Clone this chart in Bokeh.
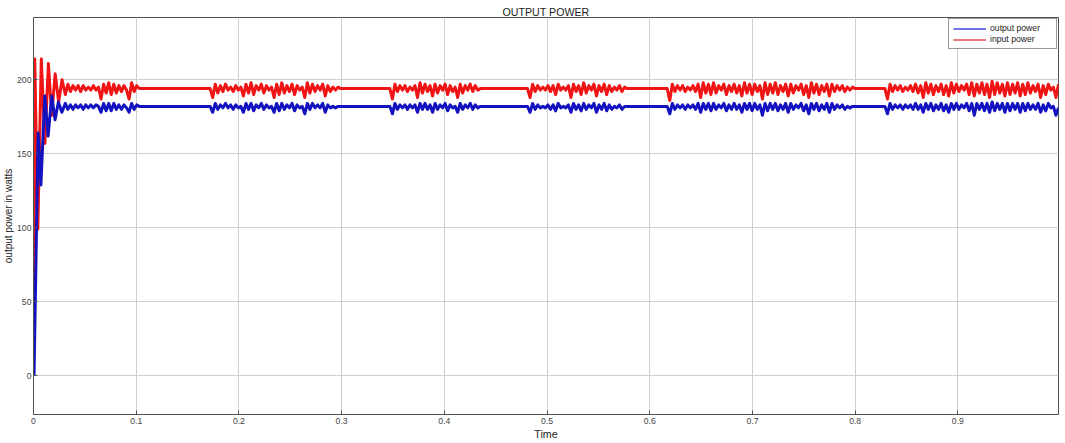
import numpy as np
from bokeh.plotting import figure
from bokeh.models import Range1d, FixedTicker, Legend, LegendItem
from bokeh.embed import file_html
from bokeh.resources import INLINE

# ---------------- data ----------------
x_ticks = [0, 0.1, 0.2, 0.3, 0.4, 0.5, 0.6, 0.7, 0.8, 0.9]
x_tick_labels = ["0", "0.1", "0.2", "0.3", "0.4", "0.5", "0.6", "0.7", "0.8", "0.9"]
y_ticks = [0, 50, 100, 150, 200]

# start-up transient
red_tr_t = [0.0, 0.0012, 0.0042, 0.0076, 0.0111, 0.0145, 0.0177, 0.0211, 0.0245, 0.0278]
red_tr_v = [0, 214, 99, 214, 157, 211, 176, 204, 185, 200]
blue_tr_t = [0.0005, 0.0045, 0.0072, 0.0110, 0.0142, 0.0178, 0.0210, 0.0242, 0.0276]
blue_tr_v = [0, 164, 129, 189, 162, 189, 173, 185, 178]

# oscillation bursts: (start time, end time)
burst_spans = [(0.031, 0.103), (0.172, 0.299), (0.347, 0.435),
               (0.481, 0.578), (0.617, 0.800), (0.829, 0.998)]

red_b1 = [190, 197, 192, 196, 193, 196, 192, 196, 193, 195, 193, 196, 193, 195, 187,
          197, 191, 198, 190, 197, 191, 196, 192, 196, 193, 187, 198, 192, 196, 194]
blue_b1 = [184, 180, 183, 180, 183, 181, 183, 180, 183, 181, 183, 181, 183, 182, 178,
           184, 179, 184, 179, 184, 180, 183, 180, 183, 181, 178, 184, 180, 183, 182]

red_b2 = [194, 188, 197, 191, 196, 192, 197, 193, 195, 192, 196, 193, 195, 189, 197, 191,
          198, 190, 196, 193, 197, 191, 196, 193, 195, 188, 197, 190, 198, 191, 196, 192,
          197, 190, 196, 193, 195, 188, 198, 191, 197, 192, 196, 193, 197, 189, 196, 192,
          195, 193, 195, 194]
blue_b2 = [182, 178, 184, 180, 183, 181, 184, 181, 183, 180, 183, 181, 182, 178, 184, 180,
           184, 179, 183, 181, 184, 180, 183, 181, 182, 178, 184, 179, 184, 180, 183, 181,
           184, 179, 183, 181, 182, 177, 184, 180, 184, 181, 183, 181, 184, 178, 183, 181,
           182, 181, 182, 182]

red_b3 = [194, 187, 197, 192, 196, 193, 196, 192, 195, 193, 196, 188, 198, 191, 197, 192,
          196, 189, 197, 191, 196, 193, 197, 190, 196, 192, 195, 188, 197, 191, 196, 193,
          197, 192, 196, 193, 194]
blue_b3 = [182, 177, 184, 180, 183, 181, 183, 180, 183, 181, 183, 178, 184, 180, 184, 180,
           183, 178, 184, 180, 183, 181, 184, 179, 183, 181, 182, 178, 184, 180, 183, 181,
           184, 180, 183, 181, 182]

red_b4 = [194, 188, 197, 192, 196, 193, 195, 193, 196, 192, 196, 190, 197, 193, 195, 193,
          196, 188, 197, 192, 196, 190, 198, 191, 196, 193, 197, 189, 196, 192, 197, 190,
          196, 192, 195, 193, 196, 192, 195, 194]
blue_b4 = [182, 178, 184, 180, 183, 181, 182, 181, 183, 180, 183, 179, 184, 181, 182, 181,
           183, 178, 184, 180, 183, 179, 184, 180, 183, 181, 184, 178, 183, 180, 184, 179,
           183, 180, 182, 181, 183, 180, 182, 182]

red_b5 = [194, 186, 197, 192, 196, 193, 196, 192, 195, 193, 196, 192, 197, 188, 198, 191,
          197, 190, 198, 191, 196, 193, 197, 190, 196, 192, 197, 191, 196, 189, 198, 191,
          197, 190, 197, 192, 196, 187, 198, 190, 197, 191, 198, 190, 196, 192, 197, 189,
          197, 191, 196, 193, 197, 190, 196, 188, 198, 191, 197, 190, 196, 192, 197, 189,
          197, 192, 196, 193, 196, 192, 195, 193, 195, 194]
blue_b5 = [182, 177, 184, 180, 183, 181, 183, 180, 183, 181, 183, 180, 184, 178, 184, 180,
           184, 179, 184, 180, 183, 181, 184, 179, 183, 180, 184, 180, 183, 178, 184, 180,
           184, 179, 184, 180, 183, 176, 184, 179, 184, 180, 184, 179, 183, 180, 184, 178,
           184, 180, 183, 181, 184, 179, 183, 177, 184, 180, 184, 179, 183, 180, 184, 178,
           184, 180, 183, 181, 183, 180, 182, 181, 182, 182]

red_b6 = [194, 187, 197, 192, 196, 193, 196, 192, 195, 193, 196, 192, 197, 191, 196, 188,
          198, 191, 197, 190, 196, 192, 197, 190, 196, 189, 198, 191, 197, 192, 196, 193,
          197, 190, 198, 189, 197, 191, 198, 190, 197, 188, 199, 190, 198, 191, 197, 189,
          198, 190, 197, 191, 198, 189, 197, 190, 198, 191, 196, 192, 197, 188, 196, 190,
          197, 193, 195, 188, 197]
blue_b6 = [182, 177, 184, 180, 183, 181, 183, 180, 183, 181, 183, 180, 184, 180, 183, 178,
           184, 180, 184, 179, 183, 180, 184, 179, 183, 178, 184, 180, 184, 180, 183, 181,
           184, 179, 184, 176, 184, 180, 184, 179, 184, 178, 185, 179, 184, 180, 184, 178,
           184, 179, 184, 180, 184, 178, 184, 179, 184, 180, 183, 180, 184, 178, 183, 179,
           184, 181, 182, 176, 181]

red_bursts = [red_b1, red_b2, red_b3, red_b4, red_b5, red_b6]
blue_bursts = [blue_b1, blue_b2, blue_b3, blue_b4, blue_b5, blue_b6]

# ---------------- assemble series ----------------
def build(tr_t, tr_v, bursts):
    t = list(tr_t)
    v = list(tr_v)
    for (a, b), vals in zip(burst_spans, bursts):
        t.extend(np.linspace(a, b, len(vals)).tolist())
        v.extend(vals)
    return t, v

red_t, red_v = build(red_tr_t, red_tr_v, red_bursts)
blue_t, blue_v = build(blue_tr_t, blue_tr_v, blue_bursts)

BLUE = "#1212c0"
RED = "#f01414"
AX = "#505050"
FONT = "Liberation Sans"

p = figure(width=1064, height=442, output_backend="svg", toolbar_location=None,
           x_range=Range1d(0, 0.998), y_range=Range1d(-26, 242),
           min_border_left=31, min_border_right=6, min_border_top=17, min_border_bottom=0)

p.title.text = "OUTPUT POWER"
p.title.align = "center"
p.title.text_font = FONT
p.title.text_font_size = "8pt"
p.title.text_font_style = "normal"
p.title.text_color = "#222222"
p.title.standoff = 0
p.title.offset = 0

p.outline_line_color = AX
p.outline_line_width = 1
p.background_fill_color = "white"
p.border_fill_color = "white"

rl = p.line(red_t, red_v, line_color=RED, line_width=3, line_join="round")
bl = p.line(blue_t, blue_v, line_color=BLUE, line_width=3, line_join="round")
# legend proxies (thin lines, drawn outside the visible range)
lb = p.line([-2, -1], [-100, -100], line_color="#4545e6", line_width=1.5)
lr = p.line([-2, -1], [-100, -100], line_color="#e84848", line_width=1.5)

p.xaxis.ticker = FixedTicker(ticks=x_ticks)
p.xaxis.major_label_overrides = {t: s for t, s in zip(x_ticks, x_tick_labels)}
p.yaxis.ticker = FixedTicker(ticks=y_ticks)

for ax in (p.xaxis[0], p.yaxis[0]):
    ax.axis_line_color = AX
    ax.major_tick_line_color = AX
    ax.major_tick_in = 4
    ax.major_tick_out = 0
    ax.minor_tick_line_color = None
    ax.major_label_text_font = FONT
    ax.major_label_text_font_size = "6.5pt"
    ax.major_label_text_color = "#444444"
    ax.major_label_standoff = 3
    ax.axis_label_text_font = FONT
    ax.axis_label_text_font_style = "normal"
    ax.axis_label_text_color = "#222222"
    ax.axis_label_standoff = 1

p.yaxis.major_label_standoff = 2
p.yaxis.axis_label_standoff = 0

p.xaxis.axis_label = "Time"
p.xaxis.axis_label_text_font_size = "8pt"
p.yaxis.axis_label = "output power in watts"
p.yaxis.axis_label_text_font_size = "7.5pt"

p.xgrid.grid_line_color = "#cfcfcf"
p.ygrid.grid_line_color = "#cfcfcf"
p.xgrid.grid_line_width = 1
p.ygrid.grid_line_width = 1

legend = Legend(items=[LegendItem(label="output power", renderers=[lb]),
                       LegendItem(label="input power", renderers=[lr])],
                location="top_right")
legend.label_text_font = FONT
legend.label_text_font_size = "6.5pt"
legend.label_text_color = "#222222"
legend.glyph_width = 33
legend.glyph_height = 9
legend.label_height = 9
legend.label_width = 62
legend.spacing = 1
legend.padding = 4
legend.margin = 1
legend.label_standoff = 4
legend.border_line_color = "#333333"
legend.border_line_width = 1
legend.background_fill_color = "white"
legend.background_fill_alpha = 1.0
p.add_layout(legend)

open("out.html", "w").write(file_html(p, INLINE))
